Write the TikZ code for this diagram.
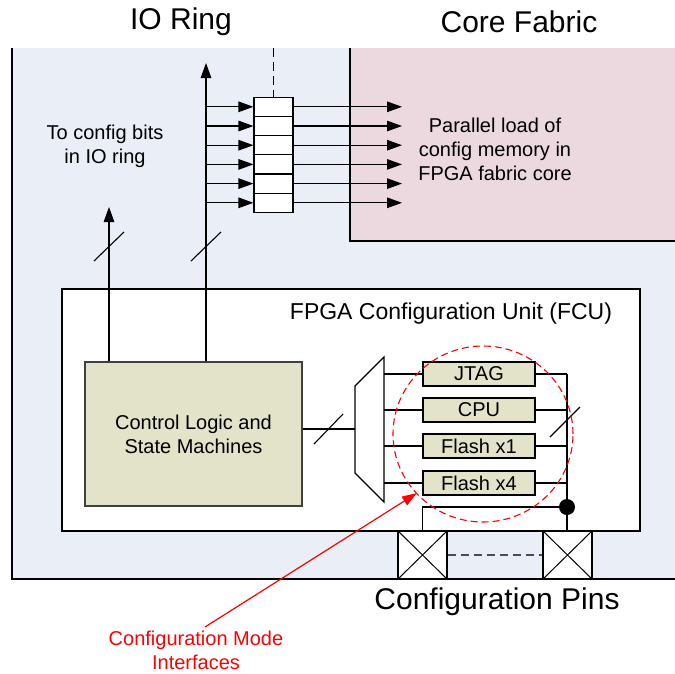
\documentclass[tikz,border=0pt]{standalone}
\usepackage{fontspec}
\setmainfont{Liberation Sans}
\usetikzlibrary{arrows.meta,calc}
\definecolor{ioblue}{HTML}{EAEEF6}
\definecolor{corepink}{HTML}{ECD9E0}
\definecolor{beige}{HTML}{E3E3C9}
\definecolor{redc}{HTML}{FF0000}
\begin{document}
\begin{tikzpicture}[x=1pt,y=-1pt,
  wire/.style={line width=1.2pt,black},
  arr/.style={wire,-{Triangle[length=15pt,width=10.5pt]}},
  txt/.style={font=\fontsize{20}{24}\selectfont,align=center,inner sep=0pt},
  big/.style={font=\fontsize{30}{34}\selectfont,inner sep=0pt},
  cell/.style={draw,line width=1.1pt,fill=white,minimum width=39pt,minimum height=19.2pt,inner sep=0pt},
  ifbox/.style={draw,line width=1.1pt,fill=beige,minimum width=112pt,minimum height=24pt,inner sep=0pt,font=\fontsize{20}{24}\selectfont},
  pinbox/.style={draw,line width=1.1pt,fill=white,minimum width=49pt,minimum height=48pt,inner sep=0pt},
  slash/.style={line width=1.1pt,black}]
\useasboundingbox (0,0) rectangle (675,673);
\fill[white] (0,0) rectangle (675,673);
% regions
\fill[ioblue] (12,48) rectangle (675,579);
\fill[corepink] (350,48) rectangle (675,241);
\draw[wire] (12,48) -- (12,579) -- (675,579);
\draw[wire] (350,48) -- (350,241) -- (675,241);
% titles
\node[big] (io) at (181,22) {IO Ring};
\node[big] (core) at (519,22) {Core Fabric};
\node[big] (pinslbl) at (497,602) {Configuration Pins};
% FCU box
\node[draw,line width=1.1pt,fill=white,minimum width=578pt,minimum height=242pt,inner sep=0pt] (fcu) at (351,410) {};
\node[font=\fontsize{23}{27}\selectfont,inner sep=0pt] (fculbl) at (451,314) {FPGA Configuration Unit (FCU)};
% control logic
\node[draw=black!75,line width=1.1pt,fill=beige,minimum width=217pt,minimum height=144pt,inner sep=0pt,txt] (ctrl) at (193.5,434) {Control Logic and\\State Machines};
% registers
\foreach \i in {1,...,6} {
  \node[cell] (r\i) at (273.5,{97.2+19.2*(\i-0.5)}) {};
}
\coordinate (bus) at (206,63);
\coordinate (cfgup) at (109,207);
\coordinate (outx) at (402,0);
\coordinate (dtop) at (273.5,48);
\draw[line width=1.3pt,dash pattern=on 9pt off 5pt] (dtop) -- (r1.north);
\draw[arr] (ctrl.north -| bus) -- (bus);
\draw[arr] (ctrl.north -| cfgup) -- (cfgup);
\foreach \i in {1,...,6} {
  \draw[arr] (r\i.west -| bus) -- (r\i.west);
  \draw[arr] (r\i.east) -- (r\i.east -| outx);
}
\draw[slash] (94,261) -- (124,232);
\draw[slash] (191,261) -- (221,232);
\node[txt] (cfgtxt) at (105,146) {To config bits\\in IO ring};
\node[txt] (partxt) at (495,149) {Parallel load of\\config memory in\\FPGA fabric core};
% mux
\coordinate (m1) at (355,386);
\coordinate (m2) at (384,357);
\coordinate (m3) at (384,502);
\coordinate (m4) at (355,473);
\draw[wire,fill=white] (m1) -- (m2) -- (m3) -- (m4) -- cycle;
\draw[wire] (ctrl.east |- 0,429) -- (355,429);
\draw[slash] (314,444) -- (343,414);
% interfaces
\node[ifbox] (jtag) at (479,374) {JTAG};
\node[ifbox] (cpu) at (479,410) {CPU};
\node[ifbox] (fx1) at (479,446) {Flash x1};
\node[ifbox] (fx4) at (479,483) {Flash x4};
\coordinate (rv) at (567,374);
\foreach \n in {jtag,cpu,fx1,fx4} {
  \draw[wire] (\n.west -| m2) -- (\n.west);
  \draw[wire] (\n.east) -- (\n.east -| rv);
}
% pins
\node[pinbox] (p1) at (422.5,555) {};
\node[pinbox] (p2) at (567.5,555) {};
\draw[line width=1pt] (p1.north west) -- (p1.south east) (p1.north east) -- (p1.south west);
\draw[line width=1pt] (p2.north west) -- (p2.south east) (p2.north east) -- (p2.south west);
\draw[line width=1.2pt,black!70,dash pattern=on 8pt off 5pt] (p1.east) -- (p2.east -| p2.west);
\coordinate (dot) at (567,507);
\draw[wire] (jtag.east -| rv) -- (p2.north -| rv);
\draw[wire] (dot) -- (dot -| p1.north) -- (p1.north);
\fill (dot) circle (8pt);
\draw[slash] (550,437) -- (580,407);
% red highlight
\draw[redc,line width=1.1pt,dash pattern=on 7pt off 4pt] (483,434) ellipse (90pt and 88pt);
\node[txt,text=redc] (redlbl) at (196,650) {Configuration Mode\\Interfaces};
\coordinate (redtip) at (417,493);
\draw[redc,line width=1.2pt,-{Triangle[length=15pt,width=10pt]}] (205,627) -- (redtip);
\end{tikzpicture}
\end{document}
